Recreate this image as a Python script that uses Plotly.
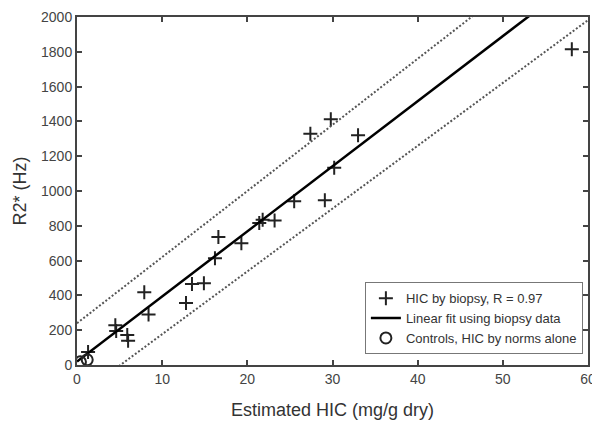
import plotly.graph_objects as go

# biopsy data (estimated HIC, R2*)
hic_biopsy = [1.3, 4.5, 4.6, 5.9, 6.0, 7.9, 8.4, 12.8, 13.5, 14.9, 16.2, 16.6,
              19.3, 21.4, 21.8, 23.2, 25.5, 27.4, 29.1, 29.8, 30.2, 33.0, 58.1]
r2_biopsy = [75, 228, 195, 172, 140, 418, 290, 357, 465, 470, 614, 736,
             700, 816, 835, 831, 941, 1329, 947, 1413, 1133, 1320, 1815]

# controls
hic_controls = [0.4, 1.2]
r2_controls = [18, 30]

# fitted line and its bands, read as endpoints at x=0 and x=60
line_x = [0, 60]
fit_y = [20, 2264]
upper_y = [240, 2520]
lower_y = [-184, 1982]

ink = '#222222'
axis_col = '#444444'

fig = go.Figure()

fig.add_trace(go.Scatter(
    x=hic_biopsy, y=r2_biopsy, mode='markers',
    name='HIC by biopsy, R = 0.97',
    marker=dict(symbol='cross-thin', size=10, line=dict(width=2, color=ink), color=ink),
))
fig.add_trace(go.Scatter(
    x=line_x, y=fit_y, mode='lines',
    name='Linear fit using biopsy data',
    line=dict(color='black', width=2.5),
))
fig.add_trace(go.Scatter(
    x=hic_controls, y=r2_controls, mode='markers',
    name='Controls, HIC by norms alone',
    marker=dict(symbol='circle-open', size=11, line=dict(width=2, color=ink), color=ink),
))
for yy in (upper_y, lower_y):
    fig.add_trace(go.Scatter(
        x=line_x, y=yy, mode='lines', showlegend=False,
        line=dict(color='#555555', width=2, dash='2px,2px'),
    ))

axis_common = dict(
    showline=True, linecolor=axis_col, linewidth=2, mirror='ticks',
    ticks='inside', ticklen=5, tickwidth=1.5, tickcolor=axis_col,
    showgrid=False, zeroline=False, automargin=False,
    ticklabeloverflow='allow',
    tickfont=dict(size=14, color='#444444'),
)

# page body adds an 8px offset, so the figure is sized to end at the window edge
fig.update_layout(
    width=592, height=419,
    margin=dict(l=69, r=12, t=9, b=62),
    paper_bgcolor='white', plot_bgcolor='white',
    font=dict(family='Liberation Sans, Arial, sans-serif', color='#333333'),
    xaxis=dict(range=[0, 60], dtick=10,
               title=dict(text='Estimated HIC (mg/g dry)', font=dict(size=18), standoff=18),
               **axis_common),
    yaxis=dict(range=[0, 2000], dtick=200,
               title=dict(text='R2* (Hz)', font=dict(size=18), standoff=10),
               **axis_common),
    legend=dict(
        x=0.99, y=0.031, xanchor='right', yanchor='bottom',
        bgcolor='white', bordercolor='#777777', borderwidth=1,
        font=dict(size=13, color='#333333'),
        tracegroupgap=0, itemwidth=30,
    ),
)

fig.write_html("out.html")
